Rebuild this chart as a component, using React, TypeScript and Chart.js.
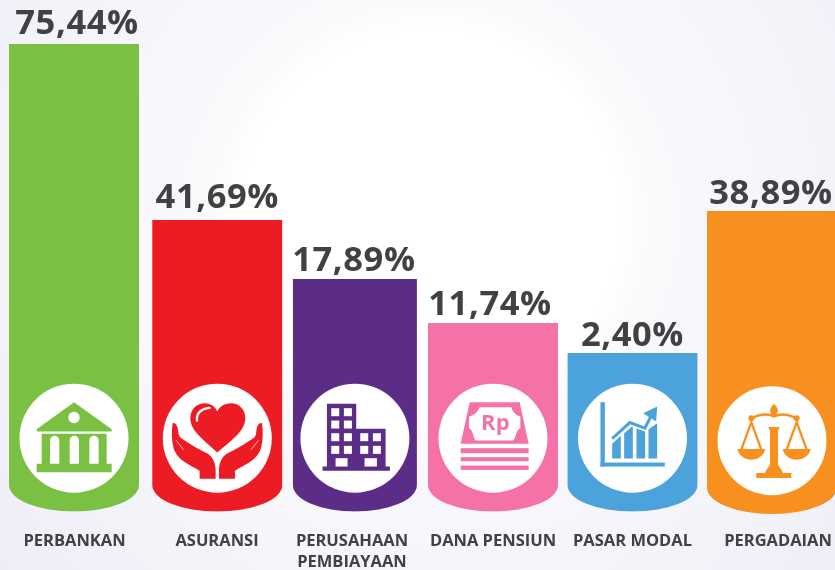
import React, { useEffect, useRef } from "react";
import { Chart, registerables, CategoryScale } from "chart.js";

const categories: (string | string[])[] = ["PERBANKAN", "ASURANSI", ["PERUSAHAAN", "PEMBIAYAAN"], "DANA PENSIUN", "PASAR MODAL", "PERGADAIAN"];
const percentages = [75.44, 41.69, 17.89, 11.74, 2.4, 38.89];
// The drawn bars are not proportional to their printed values: heights.
const barTops = [467.5, 291.5, 232.5, 188.5, 158.5, 300.5];
const barBottoms = [0, 0, 0, 0, 0, -2.5];
const barColors = ["#7ac143", "#ed1c24", "#5c2d86", "#f472a8", "#4ca2db", "#f7901e"];

const barNudge = [0, 3.8, 1.9, 0.5, 0.5, 0.5];
const tickNudge = [0.5, 3.5, -1, 0.5, 0.5, 6.5];
const labelCenterShift = [3, 0, -1, -3, 0, -1];
const labelGap = [10, 12, 8, 8, 7, 7];
const INK = "#414042";
const AXIS_START = 4.25;
const AXIS_LENGTH = 837;

class NudgedCategory extends (CategoryScale as any) {
  static id = "nudged";
  static defaults = (CategoryScale as any).defaults;
  configure() {
    super.configure();
    const s = this as any;
    s._startPixel = AXIS_START;
    s._endPixel = AXIS_START + AXIS_LENGTH;
    s._length = AXIS_LENGTH;
  }
  getPixelForValue(value: any, index?: number) {
    const p = super.getPixelForValue(value, index);
    const i = typeof value === "number" ? Math.round(value) : index ?? 0;
    return p + (barNudge[i] || 0);
  }
  getPixelForTick(index: number) {
    const t = (this as any).ticks[index];
    if (!t) return null as any;
    return super.getPixelForValue(t.value) + (tickNudge[index] || 0);
  }
}
Chart.register(...registerables, NudgedCategory as any);

// icon artwork, authored on a 3x grid around each icon's own centre
type IconFn = (c: CanvasRenderingContext2D, col: string) => void;
const P = (c: CanvasRenderingContext2D, d: string) => c.fill(new Path2D(d));
const icons: { cx: number; cy: number; draw: IconFn }[] = [
  {
    cx: 222, cy: 205,
    draw(c, col) {
      c.fillStyle = col;
      P(c, "M222 97L335 178V185H110V178Z");
      P(c, "M125 192H320V282H335V307H110V282H125Z");
      c.fillStyle = "#fff";
      c.beginPath(); c.arc(222, 143, 17, 0, Math.PI * 2); c.fill();
      for (const x of [150, 209, 268]) P(c, `M${x} 282V212A14 14 0 0 1 ${x + 28} 212V282Z`);
    },
  },
  {
    cx: 653, cy: 205,
    draw(c, col) {
      c.fillStyle = col;
      P(c, "M653 248C620 215 572 185 572 145C572 115 595 100 615 100C635 100 648 112 653 125C658 112 672 100 695 100C718 100 737 118 737 145C737 185 690 215 653 248Z");
      c.strokeStyle = "#fff"; c.lineWidth = 7; c.lineCap = "round";
      c.stroke(new Path2D("M592 152C590 130 605 116 630 114"));
      for (const m of [1, -1]) {
        c.save();
        if (m < 0) { c.translate(1306, 0); c.scale(-1, 1); }
        c.fillStyle = col;
        P(c, "M519 160C528 158 534 168 536 185C537 195 538 201 545 205C570 222 600 240 625 252C640 262 648 282 648 300V327H600V303C575 285 535 275 522 235C516 212 515 185 519 160Z");
        c.strokeStyle = "#fff"; c.lineWidth = 2;
        c.stroke(new Path2D("M530 212L552 240"));
        c.restore();
      }
    },
  },
  {
    cx: 1064, cy: 205,
    draw(c, col) {
      c.fillStyle = col;
      P(c, "M980 102H1068V177H1156V290H1169V303H967V290H980Z");
      c.fillStyle = "#fff";
      for (const y of [115, 152, 190, 228]) for (const x of [993, 1031]) c.fillRect(x, y, 24, 24);
      for (const y of [190, 228]) for (const x of [1080, 1118]) c.fillRect(x, y, 24, 24);
      c.fillRect(1006, 265, 36, 25);
      c.fillRect(1093, 265, 37, 25);
    },
  },
  {
    cx: 230, cy: 205,
    draw(c, col) {
      c.fillStyle = col;
      P(c, "M160 97H310L337 222H133Z");
      c.fillRect(133, 235, 204, 15);
      c.fillRect(133, 262, 204, 12);
      c.fillRect(133, 287, 204, 13);
      c.fillStyle = "#fff";
      P(c, "M190 112H285C288 125 298 135 312 140V175C298 180 300 205 290 212H178C170 205 172 182 158 175V140C175 135 185 125 190 112Z");
      c.fillStyle = col;
      c.font = "bold 66px 'Open Sans'";
      c.textAlign = "center"; c.textBaseline = "alphabetic";
      c.fillText("Rp", 237, 180);
    },
  },
  {
    cx: 653, cy: 205,
    draw(c, col) {
      c.fillStyle = col;
      c.fillRect(557, 97, 13, 193);
      c.fillRect(557, 278, 193, 12);
      P(c, "M592 222L618 198V266H592Z");
      P(c, "M628 190L654 168V266H628Z");
      P(c, "M665 175L691 185V266H665Z");
      P(c, "M701 178L727 160V266H701Z");
      c.strokeStyle = "#fff"; c.lineWidth = 17; c.lineJoin = "miter"; c.lineCap = "butt";
      c.stroke(new Path2D("M590 208L645 158L690 175L708 140"));
      c.strokeStyle = col; c.lineWidth = 9;
      c.stroke(new Path2D("M592 206L645 158L690 175L708 140"));
      P(c, "M685 130L727 110L724 155Z");
    },
  },
  {
    cx: 1067, cy: 213,
    draw(c, col) {
      c.fillStyle = col;
      P(c, "M1056 172H1090L1085 184V282C1087 293 1097 298 1100 310H1125V325H1020V310H1046C1049 298 1059 293 1061 282V184Z");
      P(c, "M1073 103C1079 110 1087 116 1084 126L1080 136H1066L1062 126C1059 116 1067 110 1073 103Z");
      c.strokeStyle = col; c.lineWidth = 8; c.lineCap = "round"; c.lineJoin = "round";
      c.stroke(new Path2D("M1003 147C1030 133 1052 130 1073 140C1094 130 1116 133 1143 147"));
      for (const x of [1005, 1141]) {
        c.beginPath(); c.arc(x, 146, 9, 0, Math.PI * 2); c.fill();
        c.lineWidth = 7;
        c.stroke(new Path2D(`M${x} 157L${x - 30} 240M${x} 157L${x + 30} 240`));
        P(c, `M${x - 42} 238H${x + 42}C${x + 38} 258 ${x + 20} 270 ${x} 270C${x - 20} 270 ${x - 38} 258 ${x - 42} 238Z`);
      }
    },
  },
];

const backdrop = {
  id: "backdrop",
  beforeDraw(chart: any) {
    const { ctx, width, height } = chart;
    const g = ctx.createRadialGradient(430, 220, 0, 430, 220, 620);
    g.addColorStop(0, "#ffffff");
    g.addColorStop(190 / 620, "#ffffff");
    g.addColorStop(215 / 620, "#fbfbfd");
    g.addColorStop(265 / 620, "#f8f8fc");
    g.addColorStop(420 / 620, "#f3f3fa");
    g.addColorStop(1, "#ecebf5");
    ctx.save();
    ctx.fillStyle = g;
    ctx.fillRect(0, 0, width, height);
    ctx.restore();
  },
};

const barArt = {
  id: "barArt",
  afterDatasetsUpdate(chart: any) {
    const third = chart.getDatasetMeta(0).data[2];
    if (third) third.width = 124;
  },
  beforeDatasetDraw(chart: any, args: any) {
    const { ctx } = chart;
    ctx.save();
    ctx.beginPath();
    for (const el of args.meta.data) {
      const rx = el.width / 2;
      const left = el.x - rx;
      const ry = 26.5;
      const top = Math.min(el.y, el.base);
      const bottom = Math.max(el.y, el.base);
      ctx.moveTo(left, top);
      ctx.lineTo(left + el.width, top);
      ctx.lineTo(left + el.width, bottom - ry);
      ctx.ellipse(el.x, bottom - ry, rx, ry, 0, 0, Math.PI);
      ctx.closePath();
    }
    ctx.clip();
  },
  afterDatasetDraw(chart: any) {
    chart.ctx.restore();
  },
  afterDatasetsDraw(chart: any) {
    const { ctx } = chart;
    chart.getDatasetMeta(0).data.forEach((el: any, i: number) => {
      const top = Math.min(el.y, el.base);
      const bottom = Math.max(el.y, el.base);
      const cy = bottom - 73.3;
      ctx.save();
      ctx.fillStyle = "#ffffff";
      ctx.beginPath();
      ctx.arc(el.x, cy, 54.5, 0, Math.PI * 2);
      ctx.fill();
      const ic = icons[i];
      ctx.translate(el.x, cy);
      ctx.scale(1 / 3, 1 / 3);
      ctx.translate(-ic.cx, -ic.cy);
      ic.draw(ctx, barColors[i]);
      ctx.restore();

      ctx.save();
      ctx.fillStyle = INK;
      ctx.font = "bold 34.5px 'Open Sans'";
      (ctx as any).letterSpacing = "0.6px";
      ctx.textAlign = "center";
      ctx.textBaseline = "alphabetic";
      const text = percentages[i].toFixed(2).replace(".", ",") + "%";
      ctx.fillText(text, el.x + labelCenterShift[i], top - labelGap[i]);
      ctx.restore();
    });
  },
};

export default function App() {
  const ref = useRef<HTMLCanvasElement>(null);
  useEffect(() => {
    document.body.style.margin = "0";
    document.body.style.overflow = "hidden";
    const chart = new Chart(ref.current as HTMLCanvasElement, {
      type: "bar",
      data: {
        labels: categories as any,
        datasets: [
          {
            data: barTops.map((t, i) => [barBottoms[i], t]) as any,
            backgroundColor: barColors,
            borderWidth: 0,
            barThickness: 130,
            clip: false as any,
          },
        ],
      },
      plugins: [backdrop, barArt],
      options: {
        animation: false,
        responsive: false,
        layout: { padding: 0 },
        plugins: { legend: { display: false }, tooltip: { enabled: false }, title: { display: false } },
        scales: {
          x: {
            type: "nudged" as any,
            axis: "x",
            offset: true,
            grid: { display: false, drawTicks: false },
            border: { display: false },
            afterFit: (s: any) => { s.height = 58.5; },
            ticks: {
              color: INK,
              padding: 19,
              autoSkip: false,
              maxRotation: 0,
              minRotation: 0,
              font: { family: "'Open Sans'", weight: "bold", size: 16.5, lineHeight: 1.3 },
            },
          } as any,
          y: { display: false, min: 0, max: 511.5 },
        },
      },
    } as any);
    return () => chart.destroy();
  }, []);
  return <canvas ref={ref} width={835} height={570} style={{ display: "block", width: 835, height: 570 }} />;
}
